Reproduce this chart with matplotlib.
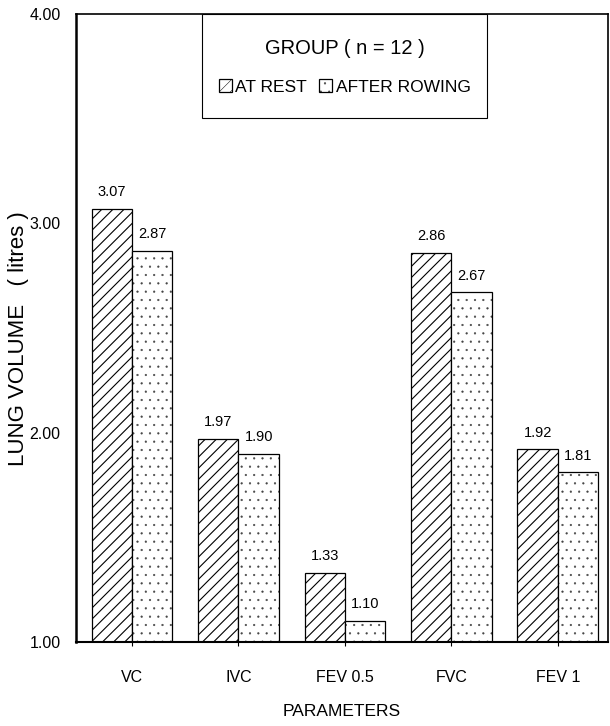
import numpy as np
import matplotlib
matplotlib.use('Agg')
import matplotlib.pyplot as plt
from matplotlib.patches import Rectangle

# ── Data ─────────────────────────────────────────────────────────────────────
params = ['VC', 'IVC', 'FEV 0.5', 'FVC', 'FEV 1']
at_rest = [3.07, 1.97, 1.33, 2.86, 1.92]
after_rowing = [2.87, 1.90, 1.10, 2.67, 1.81]
yticks = [1.00, 2.00, 3.00, 4.00]

plt.rcParams['font.family'] = ['Liberation Sans', 'DejaVu Sans']

# ── Figure ───────────────────────────────────────────────────────────────────
fig = plt.figure(figsize=(6.10, 7.26), dpi=100)
ax = fig.add_axes([0.1246, 0.1157, 0.8721, 0.865])

x = np.arange(len(params))
w = 0.38

# at rest: diagonal hatch
plt.rcParams['hatch.linewidth'] = 0.8
b1 = ax.bar(x - w / 2, at_rest, w, facecolor='white', edgecolor='black',
            lw=0.9, hatch='///')

# after rowing: grey dots, black outline drawn on top
plt.rcParams['hatch.linewidth'] = 0.35
b2f = ax.bar(x + w / 2, after_rowing, w, facecolor='white', edgecolor='#444444',
             lw=0, hatch='..')
b2 = ax.bar(x + w / 2, after_rowing, w, fill=False, edgecolor='black', lw=0.9)

ax.bar_label(b1, fmt='%.2f', padding=7, fontsize=10.5)
ax.bar_label(b2, fmt='%.2f', padding=7, fontsize=10.5)

ax.set_ylim(1.0, 4.0)
ax.set_xlim(-0.526, 4.47)
ax.set_yticks(yticks)
ax.set_yticklabels([f'{v:.2f}' for v in yticks], fontsize=11.5)
ax.tick_params(axis='y', length=0, pad=11)
ax.set_xticks(x)
ax.set_xticklabels(params, fontsize=11.5)
ax.tick_params(axis='x', length=3, width=0.8, direction='out', pad=17)

for side, lw in [('left', 1.8), ('bottom', 1.5), ('top', 1.2), ('right', 1.2)]:
    ax.spines[side].set_linewidth(lw)

ax.set_xlabel('PARAMETERS', fontsize=12.5, labelpad=14)
fig.text(0.030, 0.534, 'LUNG VOLUME   ( litres )', rotation=90,
         ha='center', va='center', fontsize=16)

# ── Legend box hanging from the top frame ────────────────────────────────────
ax.add_patch(Rectangle((0.2368, 0.8344), 0.5358, 0.1656, transform=ax.transAxes,
                       facecolor='white', edgecolor='black', lw=0.8, zorder=4))
leg = ax.legend(handles=[b1, (b2f, b2)], labels=['AT REST', 'AFTER ROWING'],
                title='GROUP ( n = 12 )', ncol=2, frameon=False,
                loc='upper center', bbox_to_anchor=(0.5047, 0.9606),
                borderaxespad=0, borderpad=0,
                handlelength=0.75, handleheight=0.75, handletextpad=0.2,
                columnspacing=0.7, fontsize=12.5, title_fontsize=14.5)
leg.set_zorder(5)
leg._legend_box.sep = 15.5

fig.savefig('out.png', dpi=100)
